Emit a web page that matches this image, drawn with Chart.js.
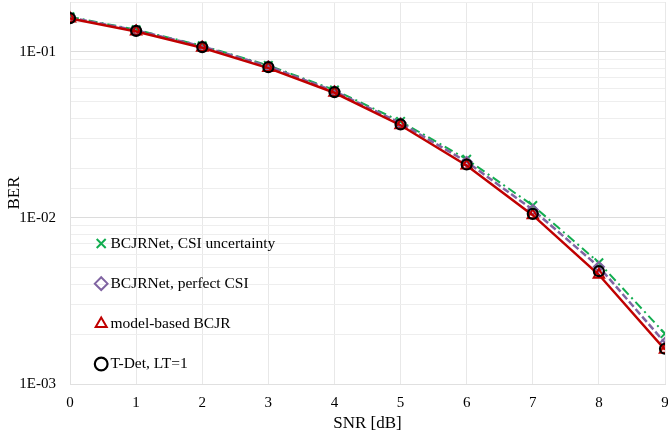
<!DOCTYPE html>
<html>
<head>
<meta charset="utf-8">
<script src="https://cdn.jsdelivr.net/npm/chart.js@4"></script>
<style>
  html, body { margin: 0; padding: 0; background: #fff; }
  #wrap { width: 668px; height: 439px; }
</style>
</head>
<body>
<div id="wrap"><canvas id="myChart"></canvas></div>
<script>
// SNR points [dB]
const snr = [0, 1, 2, 3, 4, 5, 6, 7, 8, 9];

// BER
const berCsiUncertainty = [0.163, 0.136, 0.109, 0.083, 0.059, 0.0382, 0.0226, 0.0119, 0.00538, 0.00201];
const berPerfectCsi     = [0.161, 0.135, 0.108, 0.082, 0.058, 0.0373, 0.0218, 0.0112, 0.00508, 0.00177];
const berModelBcjr      = [0.159, 0.133, 0.106, 0.080, 0.0568, 0.0362, 0.0207, 0.0104, 0.00455, 0.00161];
const berTDet           = [0.160, 0.134, 0.107, 0.081, 0.0573, 0.0366, 0.0210, 0.01059, 0.00478, 0.00163];

const yTickLabels = { '0.1': '1E-01', '0.01': '1E-02', '0.001': '1E-03' };

const serif = "'Liberation Serif', 'DejaVu Serif', serif";

const toXY = (arr) => arr.map((v, i) => ({ x: snr[i], y: v }));

// put the chartArea legend down in the lower left, like the original
const legendShift = {
  id: 'legendShift',
  afterLayout(chart) {
    const lg = chart.legend;
    lg.left = chart.chartArea.left + 5;
    lg.top = chart.chartArea.top;
    lg.bottom = chart.chartArea.bottom + 12.5;
  }
};

new Chart(document.getElementById('myChart').getContext('2d'), {
  type: 'line',
  data: {
    datasets: [
      {
        label: 'BCJRNet, CSI uncertainty',
        data: toXY(berCsiUncertainty),
        borderColor: '#12ad50',
        backgroundColor: '#12ad50',
        borderWidth: 2,
        borderDash: [9, 4, 2, 4],
        pointStyle: 'crossRot',
        pointRadius: 6,
        pointBorderWidth: 2,
        order: 3
      },
      {
        label: 'BCJRNet, perfect CSI',
        data: toXY(berPerfectCsi),
        borderColor: '#8064a2',
        backgroundColor: 'rgba(0,0,0,0)',
        borderWidth: 2.5,
        borderDash: [7, 3],
        pointStyle: 'rectRot',
        pointRadius: 5,
        pointBorderWidth: 2,
        order: 2
      },
      {
        label: 'model-based BCJR',
        data: toXY(berModelBcjr),
        borderColor: '#c00000',
        backgroundColor: 'rgba(0,0,0,0)',
        borderWidth: 2.5,
        pointStyle: 'triangle',
        pointRadius: 6,
        pointBorderWidth: 2,
        order: 1
      },
      {
        label: 'T-Det, LT=1',
        data: toXY(berTDet),
        borderColor: '#000000',
        backgroundColor: 'rgba(0,0,0,0)',
        showLine: false,
        pointStyle: 'circle',
        pointRadius: 5,
        pointBorderWidth: 2.2,
        order: 0
      }
    ]
  },
  options: {
    responsive: true,
    maintainAspectRatio: false,
    animation: false,
    layout: { autoPadding: false, padding: { top: 2, right: 3, bottom: 0, left: 0 } },
    plugins: {
      legend: {
        position: 'chartArea',
        align: 'end',
        labels: {
          usePointStyle: true,
          boxWidth: 3,
          boxHeight: 9,
          padding: 24.7,
          color: '#000',
          font: { family: serif, size: 15.5 },
          sort: (a, b) => a.datasetIndex - b.datasetIndex
        }
      },
      tooltip: { enabled: false }
    },
    scales: {
      x: {
        type: 'linear',
        min: 0,
        max: 9,
        ticks: { stepSize: 1, color: '#000', padding: 10, font: { family: serif, size: 15 } },
        grid: { color: '#e8e8e8', drawTicks: false },
        border: { color: '#e0e0e0' },
        title: { display: true, text: 'SNR [dB]', color: '#000', padding: { top: 0, bottom: 5 }, font: { family: serif, size: 17 } },
        afterFit: (scale) => {
          scale.height = 55;
          scale.paddingLeft = 0;
          scale.paddingRight = 0;
        }
      },
      y: {
        type: 'logarithmic',
        min: 0.001,
        max: 0.2,
        ticks: {
          color: '#000',
          padding: 14,
          autoSkip: false,
          font: { family: serif, size: 15 },
          callback: (v) => yTickLabels[String(v)] || ''
        },
        grid: {
          drawTicks: false,
          color: (ctx) => (yTickLabels[String(ctx.tick && ctx.tick.value)] ? '#dcdcdc' : '#eeeeee')
        },
        border: { color: '#e0e0e0' },
        title: { display: true, text: 'BER', color: '#000', padding: { top: 4, bottom: 0 }, font: { family: serif, size: 17 } },
        afterFit: (scale) => {
          scale.width = 70;
          scale.paddingTop = 0;
          scale.paddingBottom = 0;
        }
      }
    }
  },
  plugins: [legendShift]
});
</script>
</body>
</html>
